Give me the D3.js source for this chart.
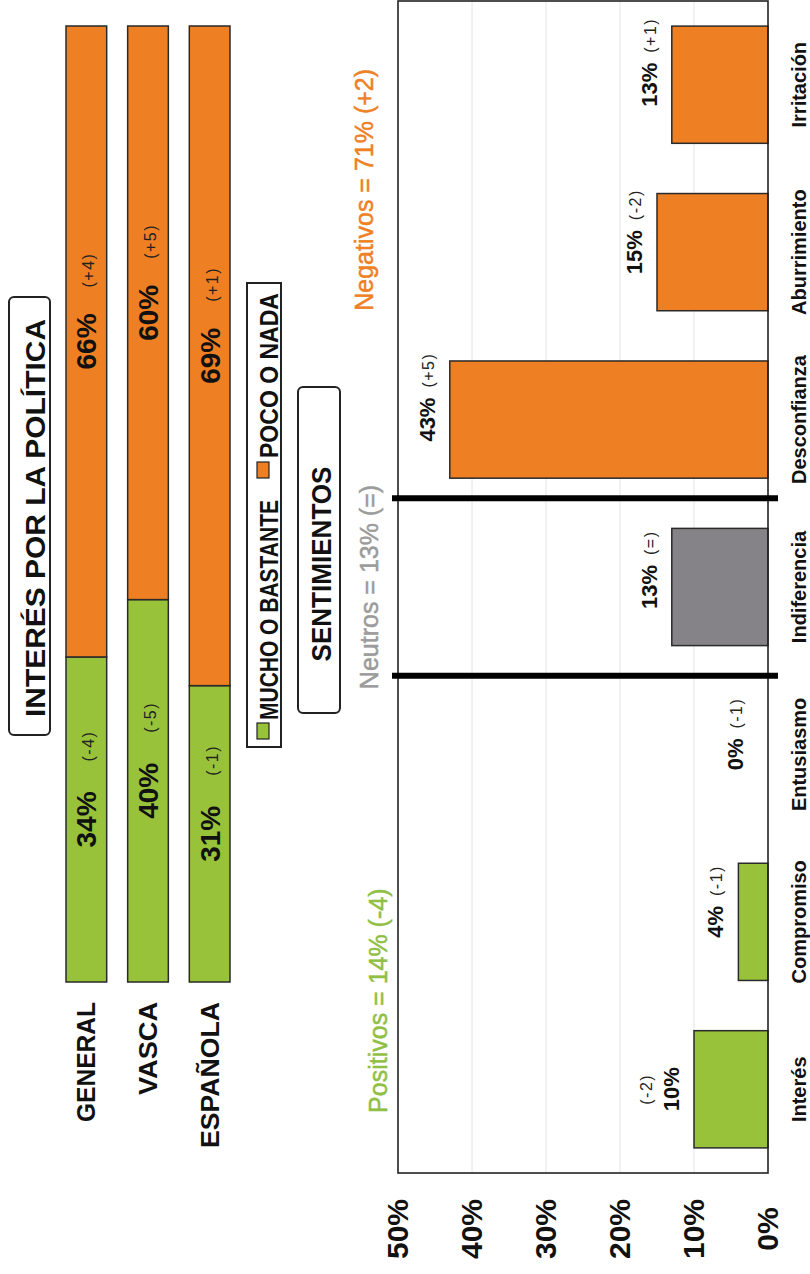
<!DOCTYPE html>
<html><head><meta charset="utf-8">
<script src="https://cdn.jsdelivr.net/npm/d3@7"></script>
<style>html,body{margin:0;padding:0;background:#fff}svg{display:block}text{font-family:"Liberation Sans",Arial,Helvetica,sans-serif}</style>
</head><body><svg id="c" width="810" height="1274"></svg>
<script>
// ---- data ----
const sentCats = ["Interés","Compromiso","Entusiasmo","Indiferencia","Desconfianza","Aburrimiento","Irritación"];
const sentValues = [10,4,0,13,43,15,13];
const sentChanges = ["(-2)","(-1)","(-1)","(=)","(+5)","(-2)","(+1)"];
const sentGroups = ["pos","pos","pos","neu","neg","neg","neg"];
const groupLabels = ["Positivos = 14% (-4)","Neutros = 13% (=)","Negativos = 71% (+2)"];
const valueTicks = [0,10,20,30,40,50];
const interestCats = ["GENERAL","VASCA","ESPAÑOLA"];
const muchoValues = [34,40,31];
const pocoValues = [66,60,69];
const muchoChanges = ["(-4)","(-5)","(-1)"];
const pocoChanges = ["(+4)","(+5)","(+1)"];
const legendLabels = ["MUCHO O BASTANTE","POCO O NADA"];
const titleText = "INTERÉS POR LA POLÍTICA";
const sentTitle = "SENTIMIENTOS";

// ---- style ----
const GREEN = "#98c23a", ORANGE = "#ee7f22", GREY = "#858387";
const groupColor = {pos: GREEN, neu: GREY, neg: ORANGE};
const groupTextColor = ["#8fc043", "#9b9b9b", "#ee8025"];

const svg = d3.select("#c");
// the whole chart is drawn in a landscape frame and rotated -90deg
const g = svg.append("g").attr("transform", "translate(0,1274) rotate(-90)");

// ================= SENTIMIENTOS chart =================
const x = d3.scaleBand().domain(sentCats).range([101, 1273]).paddingInner(0.3).paddingOuter(0.15);
const y = d3.scaleLinear().domain([0, 50]).range([768, 398]);

// gridlines
g.append("g").selectAll("line").data(valueTicks.filter(t => t > 0 && t < 50)).join("line")
  .attr("x1", 101).attr("x2", 1273).attr("y1", d => y(d)).attr("y2", d => y(d))
  .attr("stroke", "#e4e4e4").attr("stroke-width", 1);

// value axis labels
const yAxis = d3.axisLeft(y).tickValues(valueTicks).tickFormat(d => d + "%").tickSize(0).tickPadding(0);
const ya = g.append("g").attr("transform", "translate(45,0)").call(yAxis);
ya.select(".domain").remove();
ya.selectAll("text").attr("font-size", 30).attr("font-weight", "bold").attr("fill", "#111")
  .attr("text-anchor", "middle").attr("font-family", '"Liberation Sans",Arial,sans-serif');

// bars
const data = sentCats.map((c, i) => ({c, v: sentValues[i], ch: sentChanges[i], grp: sentGroups[i]}));
g.append("g").selectAll("rect").data(data).join("rect")
  .attr("x", d => x(d.c)).attr("width", x.bandwidth())
  .attr("y", d => y(d.v)).attr("height", d => y(0) - y(d.v))
  .attr("fill", d => groupColor[d.grp]).attr("stroke", "#2a2a2a").attr("stroke-width", 1.5);

// frame
g.append("rect").attr("x", 101).attr("y", 398).attr("width", 1172).attr("height", 370)
  .attr("fill", "none").attr("stroke", "#222").attr("stroke-width", 1.6);

// category labels
const xAxis = d3.axisBottom(x).tickSize(0).tickPadding(0);
const xa = g.append("g").attr("transform", "translate(0,806)").call(xAxis);
xa.select(".domain").remove();
xa.selectAll("text").attr("font-size", 20).attr("font-weight", "bold").attr("fill", "#111")
  .attr("dy", 0).attr("font-family", '"Liberation Sans",Arial,sans-serif');

// separators between groups
const pad = (x.step() - x.bandwidth()) / 2;
const sepX = [x("Indiferencia") - pad - 5, x("Desconfianza") - pad + 5];
g.append("g").selectAll("line").data(sepX).join("line")
  .attr("x1", d => d).attr("x2", d => d).attr("y1", 392).attr("y2", 778)
  .attr("stroke", "#000").attr("stroke-width", 6);

// value labels
const vl = g.append("g");
data.forEach(d => {
  const cx = x(d.c) + x.bandwidth() / 2;
  const base = Math.min(y(d.v) - 15, y(0) - 25);
  const t = vl.append("text").attr("x", cx).attr("y", base).attr("text-anchor", "middle")
    .attr("font-size", 22).attr("font-weight", "bold").attr("fill", "#111").text(d.v + "%");
  if (d.c === "Interés") {
    vl.append("text").attr("x", cx).attr("y", base - 27).attr("text-anchor", "middle")
      .attr("font-size", 16).attr("letter-spacing", 1.5).attr("fill", "#222").text(d.ch);
  } else {
    const w = t.node().getComputedTextLength();
    vl.append("text").attr("x", cx + w / 2 + 10).attr("y", base - 1).attr("text-anchor", "start")
      .attr("font-size", 16).attr("letter-spacing", 1.5).attr("fill", "#222").text(d.ch);
  }
});

// group labels
const gl = g.append("g").attr("font-size", 25).attr("stroke-width", 0.5);
gl.append("text").attr("x", x("Interés") + 35).attr("y", 387)
  .attr("fill", groupTextColor[0]).attr("stroke", groupTextColor[0]).text(groupLabels[0]);
gl.append("text").attr("x", x("Indiferencia") + x.bandwidth() / 2).attr("y", 378).attr("text-anchor", "middle")
  .attr("fill", groupTextColor[1]).attr("stroke", groupTextColor[1]).text(groupLabels[1]);
gl.append("text").attr("x", x("Aburrimiento")).attr("y", 373)
  .attr("fill", groupTextColor[2]).attr("stroke", groupTextColor[2]).text(groupLabels[2]);

// SENTIMIENTOS box
g.append("rect").attr("x", 561).attr("y", 298).attr("width", 326).attr("height", 42).attr("rx", 5)
  .attr("fill", "#fff").attr("stroke", "#222").attr("stroke-width", 2);
g.append("text").attr("x", 710).attr("y", 331).attr("text-anchor", "middle").attr("font-size", 28)
  .attr("font-weight", "bold").attr("fill", "#111").attr("textLength", 195).attr("lengthAdjust", "spacingAndGlyphs")
  .text(sentTitle);

// ================= INTERÉS POR LA POLÍTICA =================
const xs = d3.scaleLinear().domain([0, 100]).range([292, 1248]);
const ys = d3.scaleBand().domain(interestCats).range([66, 230]).paddingInner(0.34);
const stack = interestCats.map((c, i) => ({c, m: muchoValues[i], p: pocoValues[i], mc: muchoChanges[i], pc: pocoChanges[i]}));

const sb = g.append("g");
sb.selectAll("rect.m").data(stack).join("rect").attr("class", "m")
  .attr("x", xs(0)).attr("width", d => xs(d.m) - xs(0)).attr("y", d => ys(d.c)).attr("height", ys.bandwidth())
  .attr("fill", GREEN).attr("stroke", "#2a2a2a").attr("stroke-width", 1.5);
sb.selectAll("rect.p").data(stack).join("rect").attr("class", "p")
  .attr("x", d => xs(d.m)).attr("width", d => xs(d.m + d.p) - xs(d.m)).attr("y", d => ys(d.c)).attr("height", ys.bandwidth())
  .attr("fill", ORANGE).attr("stroke", "#2a2a2a").attr("stroke-width", 1.5);

stack.forEach(d => {
  const b = ys(d.c) + ys.bandwidth() / 2 + 10;
  const mcx = (xs(0) + xs(d.m)) / 2, pcx = (xs(d.m) + xs(100)) / 2;
  sb.append("text").attr("x", mcx).attr("y", b).attr("text-anchor", "middle").attr("font-size", 28)
    .attr("font-weight", "bold").attr("fill", "#111").text(d.m + "%");
  sb.append("text").attr("x", mcx + 58).attr("y", b - 2).attr("font-size", 16).attr("letter-spacing", 1.5)
    .attr("fill", "#222").text(d.mc);
  sb.append("text").attr("x", pcx).attr("y", b).attr("text-anchor", "middle").attr("font-size", 28)
    .attr("font-weight", "bold").attr("fill", "#111").text(d.p + "%");
  sb.append("text").attr("x", pcx + 54).attr("y", b - 2).attr("font-size", 16).attr("letter-spacing", 1.5)
    .attr("fill", "#222").text(d.pc);
});

// category labels
const catLen = {GENERAL: 120, VASCA: 93, "ESPAÑOLA": 146};
sb.selectAll("text.cat").data(interestCats).join("text").attr("class", "cat")
  .attr("x", 272).attr("y", d => ys(d) + ys.bandwidth() / 2 + 9).attr("text-anchor", "end")
  .attr("font-size", 26).attr("font-weight", "bold").attr("fill", "#111")
  .attr("textLength", d => catLen[d]).attr("lengthAdjust", "spacingAndGlyphs").text(d => d);

// title box
g.append("rect").attr("x", 539).attr("y", 9).attr("width", 438).attr("height", 41).attr("rx", 5)
  .attr("fill", "#fff").attr("stroke", "#222").attr("stroke-width", 2);
g.append("text").attr("x", 756).attr("y", 45).attr("text-anchor", "middle").attr("font-size", 28)
  .attr("font-weight", "bold").attr("fill", "#111").attr("textLength", 398).attr("lengthAdjust", "spacingAndGlyphs")
  .text(titleText);

// legend
const lg = g.append("g");
lg.append("rect").attr("x", 527).attr("y", 247).attr("width", 464).attr("height", 34)
  .attr("fill", "#fff").attr("stroke", "#222").attr("stroke-width", 2);
lg.append("rect").attr("x", 535).attr("y", 257).attr("width", 16).attr("height", 12)
  .attr("fill", GREEN).attr("stroke", "#222").attr("stroke-width", 1.2);
lg.append("text").attr("x", 554).attr("y", 278).attr("font-size", 26).attr("font-weight", "bold").attr("fill", "#111")
  .attr("textLength", 220).attr("lengthAdjust", "spacingAndGlyphs").text(legendLabels[0]);
lg.append("rect").attr("x", 796).attr("y", 257).attr("width", 16).attr("height", 12)
  .attr("fill", ORANGE).attr("stroke", "#222").attr("stroke-width", 1.2);
lg.append("text").attr("x", 816).attr("y", 278).attr("font-size", 26).attr("font-weight", "bold").attr("fill", "#111")
  .attr("textLength", 165).attr("lengthAdjust", "spacingAndGlyphs").text(legendLabels[1]);
</script></body></html>
